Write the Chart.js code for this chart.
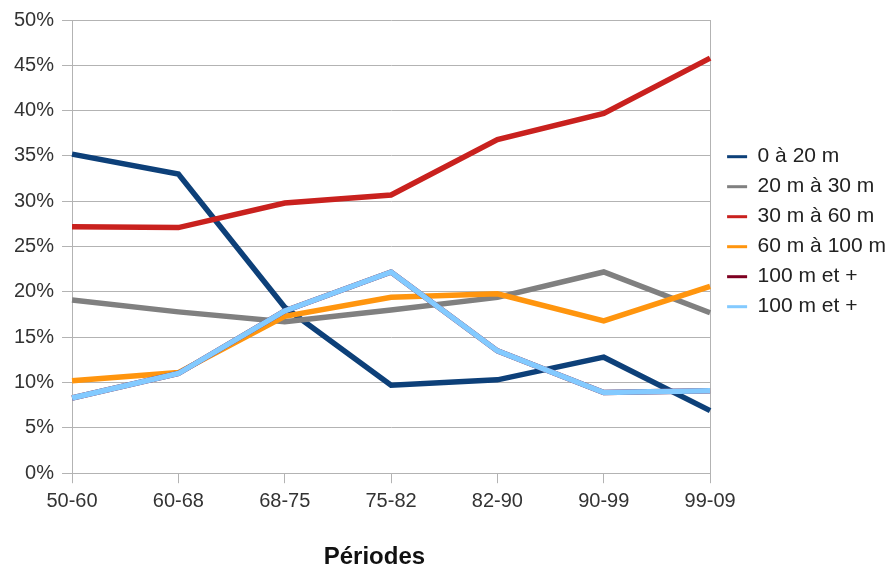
<!DOCTYPE html>
<html>
<head>
<meta charset="utf-8">
<script src="https://cdn.jsdelivr.net/npm/chart.js@4.4.0/dist/chart.umd.min.js"></script>
<style>
  html, body { margin: 0; padding: 0; background: #fff; }
  #wrap { width: 893px; height: 564px; }
</style>
</head>
<body>
<div id="wrap"><canvas id="mycanvas"></canvas></div>
<script>
var periodes = ["50-60", "60-68", "68-75", "75-82", "82-90", "90-99", "99-09"];

var s0a20 = [35.2, 33.0, 18.3, 9.7, 10.3, 12.8, 6.9];
var s20a30 = [19.1, 17.8, 16.7, 18.0, 19.4, 22.2, 17.7];
var s30a60 = [27.2, 27.1, 29.8, 30.7, 36.8, 39.7, 45.8];
var s60a100 = [10.2, 11.1, 17.3, 19.4, 19.8, 16.8, 20.6];
var s100plusA = [8.3, 11.0, 17.9, 22.2, 13.5, 8.9, 9.1];
var s100plusB = [8.3, 11.0, 17.9, 22.2, 13.5, 8.9, 9.1];

var noms = ["0 à 20 m", "20 m à 30 m", "30 m à 60 m", "60 m à 100 m", "100 m et +", "100 m et +"];
var couleurs = ['#0d4079', '#808080', '#c9211e', '#ff950e', '#7e0021', '#83caff'];
var series = [s0a20, s20a30, s30a60, s60a100, s100plusA, s100plusB];

var datasets = [];
for (var i in series) {
  datasets.push({
    label: noms[i],
    data: series[i],
    borderColor: couleurs[i],
    backgroundColor: couleurs[i],
    borderWidth: 5.5,
    pointRadius: 0,
    tension: 0,
    order: series.length - i
  });
}

Chart.defaults.font.family = "'Liberation Sans', Arial, sans-serif";
Chart.defaults.font.size = 20;
Chart.defaults.color = '#333';

var ctx = document.getElementById('mycanvas');
new Chart(ctx, {
  type: 'line',
  data: { labels: periodes, datasets: datasets },
  options: {
    responsive: true,
    maintainAspectRatio: false,
    animation: false,
    layout: { padding: { left: 6, right: -3, top: 16, bottom: -8 } },
    plugins: {
      tooltip: { enabled: false },
      legend: {
        position: 'right',
        align: 'start',
        maxWidth: 400,
        title: { display: true, text: ' ', font: { size: 1 }, padding: { top: 120, bottom: 0 } },
        labels: {
          boxWidth: 20,
          boxHeight: 3,
          padding: 9,
          color: '#222',
          font: { size: 21 },
          sort: function(a, b) { return a.datasetIndex - b.datasetIndex; },
          generateLabels: function(chart) {
            var items = Chart.defaults.plugins.legend.labels.generateLabels(chart);
            items.forEach(function(it) { it.lineWidth = 0; });
            return items;
          }
        }
      }
    },
    scales: {
      x: {
        offset: false,
        grid: { color: '#b3b3b3', drawOnChartArea: false, tickLength: 10 },
        border: { color: '#b3b3b3' },
        ticks: { padding: 6, maxRotation: 0 },
        title: {
          display: true,
          text: 'Périodes     ',
          font: { size: 24, weight: 'bold' },
          color: '#111',
          padding: { top: 24, bottom: 0 }
        }
      },
      y: {
        min: 0,
        max: 50,
        grid: { color: '#b3b3b3', tickLength: 10 },
        border: { color: '#b3b3b3' },
        ticks: {
          stepSize: 5,
          padding: 8,
          callback: function(v) { return v + '%'; }
        }
      },
      yDroite: {
        position: 'right',
        min: 0,
        max: 50,
        grid: { display: false },
        ticks: { display: false },
        border: { display: true, color: '#b3b3b3' }
      }
    }
  }
});
</script>
</body>
</html>
